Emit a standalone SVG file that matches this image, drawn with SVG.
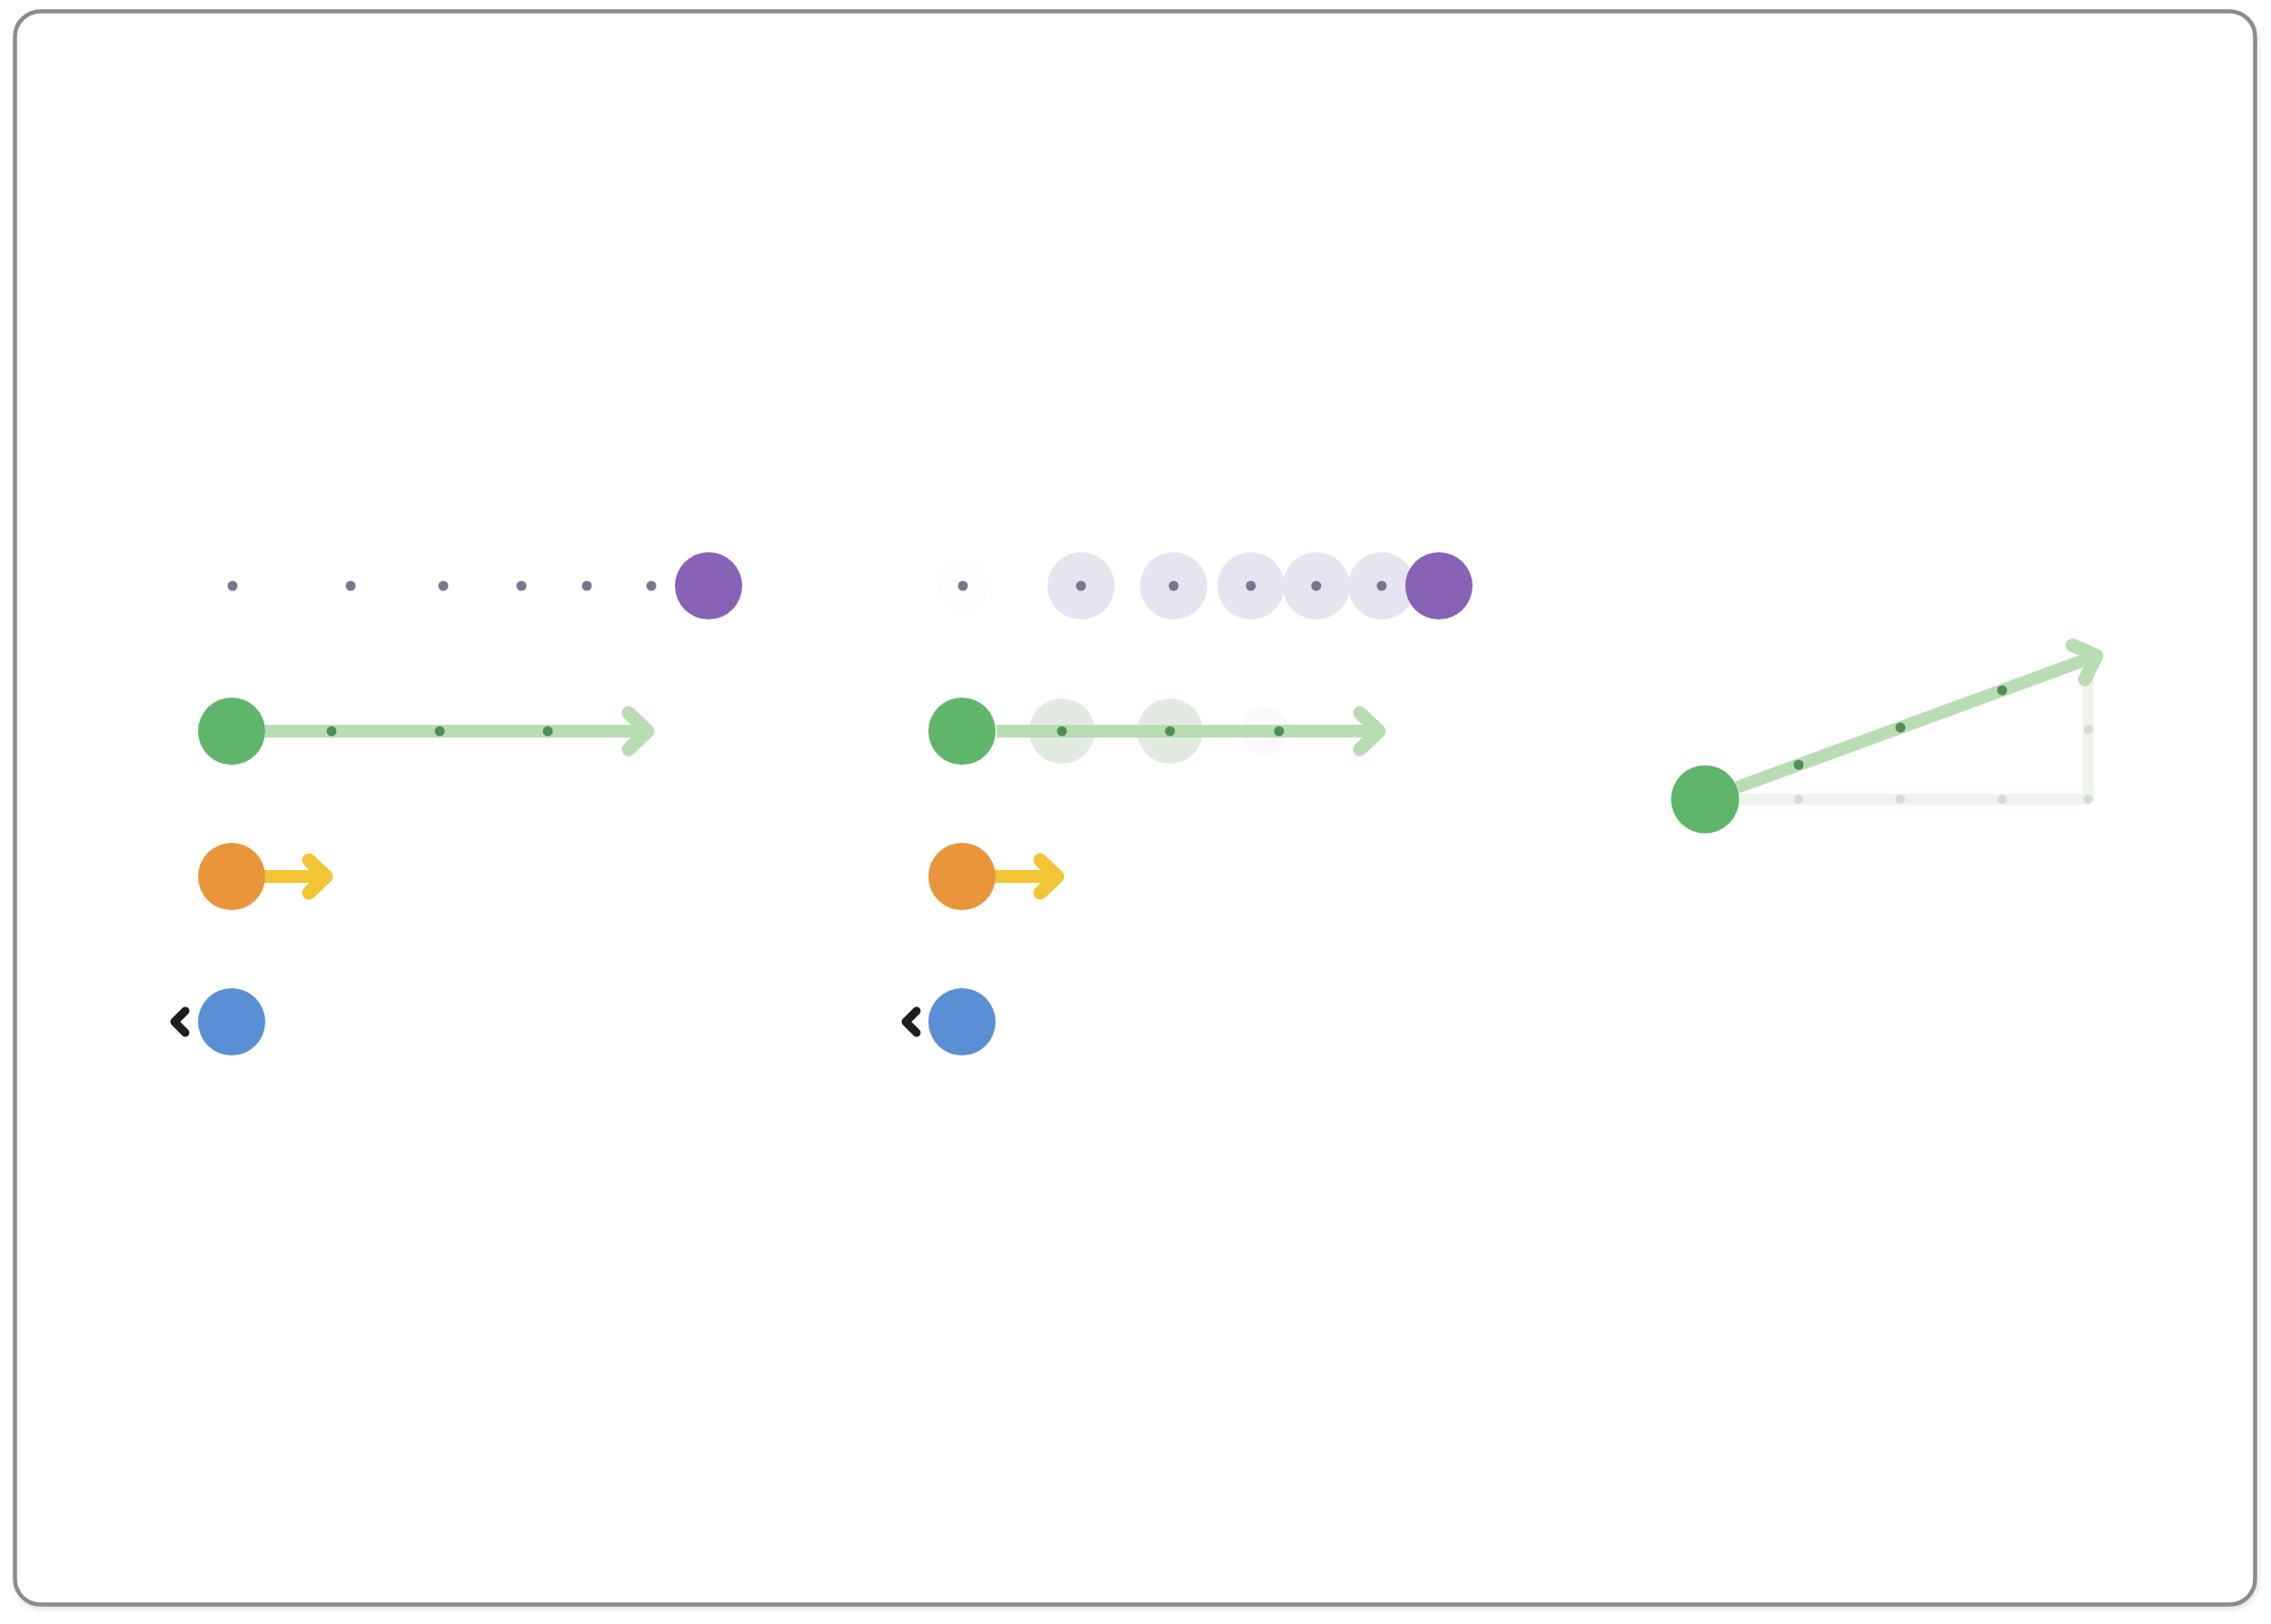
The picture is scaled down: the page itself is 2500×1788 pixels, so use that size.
<svg xmlns="http://www.w3.org/2000/svg" width="2500" height="1788" viewBox="0 0 2500 1788">
  <defs>
    <style>
      .frame { fill: #ffffff; stroke: #8c8c8c; stroke-width: 4.5; }
      .dot { fill: #77768e; }
      .purple { fill: #8762b6; }
      .green { fill: #5fb56a; }
      .orange { fill: #e8953b; }
      .blue { fill: #5b8fd5; }
      .ghostP { fill: #e6e4ee; }
      .ghostG { fill: #e3eae2; }
      .gline { stroke: #b9ddb3; stroke-width: 14; fill: none; }
      .yline { stroke: #f3c434; stroke-width: 14; fill: none; }
      .faint { stroke: #eef4ec; stroke-width: 12; fill: none; }
      .gdot { fill: #4f8f56; }
      .fdot { fill: #d6dbd4; }
      .chev { fill: none; stroke: #1e1e1e; stroke-width: 9; stroke-linecap: round; stroke-linejoin: round; }
    </style>
    <marker id="arrowG" markerUnits="userSpaceOnUse" markerWidth="80" markerHeight="80" refX="0" refY="0" orient="auto" overflow="visible" viewBox="-40 -40 80 80">
      <path d="M-21,-20 L0,0 L-21,20" fill="none" stroke="#b9ddb3" stroke-width="15" stroke-linecap="round" stroke-linejoin="round"/>
    </marker>
    <marker id="arrowY" markerUnits="userSpaceOnUse" markerWidth="80" markerHeight="80" refX="0" refY="0" orient="auto" overflow="visible" viewBox="-40 -40 80 80">
      <path d="M-19,-18 L0,0 L-19,18" fill="none" stroke="#f3c434" stroke-width="15" stroke-linecap="round" stroke-linejoin="round"/>
    </marker>
    <filter id="shadow" x="-5%" y="-5%" width="110%" height="110%">
      <feGaussianBlur stdDeviation="4"/>
    </filter>
  </defs>

  <rect x="0" y="0" width="2500" height="1788" fill="#ffffff"/>
  <rect x="18" y="16" width="2466" height="1754" rx="28" fill="#000000" opacity="0.18" filter="url(#shadow)"/>
  <rect class="frame" x="16.5" y="12.5" width="2466" height="1754" rx="28"/>

  <!-- column 2 ghost trail (behind the connectors) -->
  <g id="c2-green-ghosts">
    <circle class="ghostG" cx="1169" cy="805" r="36"/>
    <circle class="ghostG" cx="1288" cy="805" r="36"/>
    <circle cx="1392" cy="805" r="26" fill="#fbf7fb"/>
  </g>

  <!-- connectors -->
  <g id="connectors">
    <!-- column 1 -->
    <line class="gline" x1="292" y1="805" x2="713" y2="805" marker-end="url(#arrowG)"/>
    <line class="yline" x1="290" y1="965" x2="359" y2="965" marker-end="url(#arrowY)"/>
    <path class="chev" d="M204,1113 L192,1125 L204,1137"/>
    <!-- column 2 -->
    <line class="gline" x1="1097" y1="805" x2="1518" y2="805" marker-end="url(#arrowG)"/>
    <line class="yline" x1="1095" y1="965" x2="1164" y2="965" marker-end="url(#arrowY)"/>
    <path class="chev" d="M1009,1113 L997,1125 L1009,1137"/>
    <!-- column 3 -->
    <line class="faint" x1="1900" y1="880" x2="2299" y2="880"/>
    <line class="faint" x1="2299" y1="880" x2="2299" y2="738"/>
    <line class="gline" x1="1912" y1="867" x2="2308" y2="722" marker-end="url(#arrowG)"/>
  </g>

  <!-- column 1 -->
  <g id="c1-purple-row">
    <circle class="dot" cx="256" cy="645" r="5.5"/>
    <circle class="dot" cx="386" cy="645" r="5.5"/>
    <circle class="dot" cx="488" cy="645" r="5.5"/>
    <circle class="dot" cx="574" cy="645" r="5.5"/>
    <circle class="dot" cx="646" cy="645" r="5.5"/>
    <circle class="dot" cx="717" cy="645" r="5.5"/>
    <circle class="purple" cx="780" cy="645" r="37"/>
  </g>
  <g id="c1-green-row">
    <circle class="gdot" cx="365" cy="805" r="5.5"/>
    <circle class="gdot" cx="484" cy="805" r="5.5"/>
    <circle class="gdot" cx="603" cy="805" r="5.5"/>
    <circle class="green" cx="255" cy="805" r="37"/>
  </g>
  <g id="c1-orange">
    <circle class="orange" cx="255" cy="965" r="37"/>
  </g>
  <g id="c1-blue">
    <circle class="blue" cx="255" cy="1125" r="37"/>
  </g>

  <!-- column 2 -->
  <g id="c2-purple-row">
    <circle cx="1060" cy="645" r="28" fill="#fdfdfd"/>
    <circle class="ghostP" cx="1190" cy="645" r="37"/>
    <circle class="ghostP" cx="1292" cy="645" r="37"/>
    <circle class="ghostP" cx="1377" cy="645" r="37"/>
    <circle class="ghostP" cx="1449" cy="645" r="37"/>
    <circle class="ghostP" cx="1521" cy="645" r="37"/>
    <circle class="dot" cx="1060" cy="645" r="5.5"/>
    <circle class="dot" cx="1190" cy="645" r="5.5"/>
    <circle class="dot" cx="1292" cy="645" r="5.5"/>
    <circle class="dot" cx="1377" cy="645" r="5.5"/>
    <circle class="dot" cx="1449" cy="645" r="5.5"/>
    <circle class="dot" cx="1521" cy="645" r="5.5"/>
    <circle class="purple" cx="1584" cy="645" r="37"/>
  </g>
  <g id="c2-green-row">
    <circle class="gdot" cx="1169" cy="805" r="5.5"/>
    <circle class="gdot" cx="1288" cy="805" r="5.5"/>
    <circle class="gdot" cx="1408" cy="805" r="5.5"/>
    <circle class="green" cx="1059" cy="805" r="37"/>
  </g>
  <g id="c2-orange">
    <circle class="orange" cx="1059" cy="965" r="37"/>
  </g>
  <g id="c2-blue">
    <circle class="blue" cx="1059" cy="1125" r="37"/>
  </g>

  <!-- column 3 -->
  <g id="c3-vector">
    <circle class="fdot" cx="1980" cy="880" r="5"/>
    <circle class="fdot" cx="2092" cy="880" r="5"/>
    <circle class="fdot" cx="2204" cy="880" r="5"/>
    <circle class="fdot" cx="2299" cy="880" r="5"/>
    <circle class="fdot" cx="2299" cy="803" r="5"/>
    <circle class="gdot" cx="1980" cy="842" r="5.5"/>
    <circle class="gdot" cx="2092" cy="801" r="5.5"/>
    <circle class="gdot" cx="2204" cy="760" r="5.5"/>
    <circle class="green" cx="1877" cy="880" r="37.5"/>
  </g>
</svg>
